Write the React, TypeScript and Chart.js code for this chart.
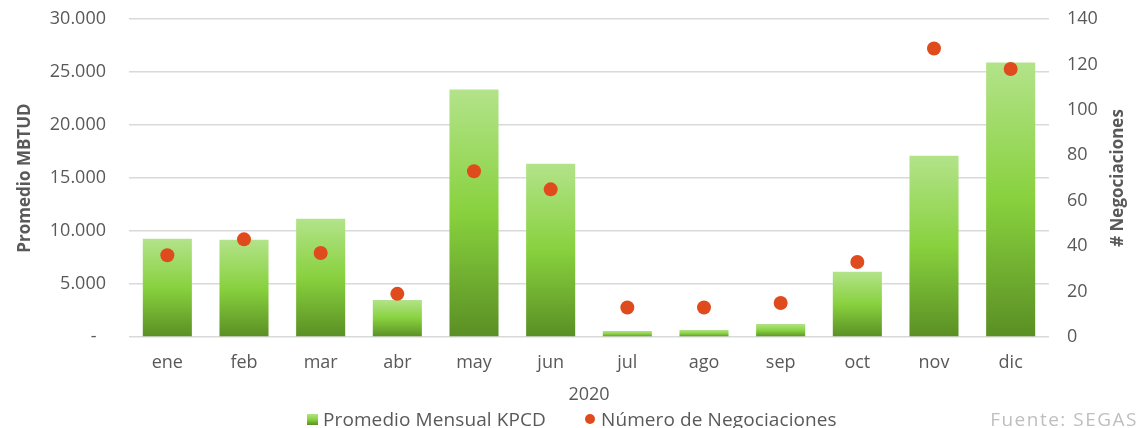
import React, { useEffect, useRef } from "react";
import { Chart, registerables } from "chart.js";

Chart.register(...registerables);

const months = ["ene", "feb", "mar", "abr", "may", "jun", "jul", "ago", "sep", "oct", "nov", "dic"];
const promedioMensualKPCD = [9260, 9170, 11150, 3500, 23350, 16350, 570, 660, 1230, 6150, 17100, 25900];
const numeroNegociaciones = [36, 43, 37, 19, 73, 65, 13, 13, 15, 33, 127, 118];
const xAxisTitle = "2020";
const leftAxisTitle = "Promedio MBTUD";
const rightAxisTitle = "# Negociaciones";
const leftAxisMax = 30000;
const leftAxisStep = 5000;
const rightAxisMax = 140;
const rightAxisStep = 20;
const seriesLabels = ["Promedio Mensual KPCD", "Número de Negociaciones"];
const sourceText = "Fuente: SEGAS";

const FONT = "'Open Sans', 'Noto Sans', sans-serif";
const TEXT = "#595959";
const GREEN_TOP = "#b3e38a";
const GREEN_MID = "#88d13e";
const GREEN_BOT = "#5a8f24";
const DOT = "#e04b1e";

const fmtThousands = (v: number) =>
  v === 0 ? "-  " : String(Math.round(v)).replace(/\B(?=(\d{3})+(?!\d))/g, ".");

const rightTitlePlugin = {
  id: "rightTitle",
  afterDraw(chart: any) {
    const { ctx, chartArea } = chart;
    ctx.save();
    ctx.translate(chart.width - 24, (chartArea.top + chartArea.bottom) / 2);
    ctx.rotate(-Math.PI / 2);
    ctx.font = `bold 17px ${FONT}`;
    ctx.fillStyle = TEXT;
    ctx.textAlign = "center";
    ctx.textBaseline = "middle";
    ctx.fillText(rightAxisTitle, 0, 0);
    ctx.restore();
  },
};

export default function App() {
  const canvasRef = useRef<HTMLCanvasElement | null>(null);

  useEffect(() => {
    if (!canvasRef.current) return;
    const chart = new Chart(canvasRef.current, {
      type: "bar",
      data: {
        labels: months,
        datasets: [
          {
            type: "line" as any,
            label: seriesLabels[1],
            data: numeroNegociaciones,
            yAxisID: "y1",
            showLine: false,
            pointRadius: 7,
            pointHoverRadius: 7,
            pointBackgroundColor: DOT,
            pointBorderWidth: 0,
            backgroundColor: DOT,
            borderColor: DOT,
            order: 0,
          } as any,
          {
            type: "bar",
            label: seriesLabels[0],
            data: promedioMensualKPCD,
            yAxisID: "y",
            categoryPercentage: 1,
            barPercentage: 0.64,
            order: 1,
            backgroundColor: (c: any) => {
              const ch = c.chart;
              if (!ch.chartArea || c.type !== "data") return GREEN_MID;
              const ys = ch.scales.y;
              const top = ys.getPixelForValue(c.raw as number);
              const bottom = ys.getPixelForValue(0);
              if (!isFinite(top) || !isFinite(bottom) || bottom - top < 1) return GREEN_MID;
              const g = ch.ctx.createLinearGradient(0, top, 0, bottom);
              g.addColorStop(0, GREEN_TOP);
              g.addColorStop(0.5, GREEN_MID);
              g.addColorStop(1, GREEN_BOT);
              return g;
            },
          },
        ],
      },
      options: {
        animation: false,
        responsive: true,
        maintainAspectRatio: false,
        layout: { padding: { top: 19, left: 0, right: 0, bottom: 22 } },
        plugins: {
          legend: { display: false },
          tooltip: { enabled: false },
        },
        scales: {
          x: {
            grid: { display: false },
            border: { display: false },
            ticks: { color: TEXT, font: { family: FONT, size: 18 }, padding: 7 },
            title: {
              display: true,
              text: xAxisTitle,
              color: TEXT,
              font: { family: FONT, size: 18 },
              padding: { top: 0, bottom: 0 },
            },
            afterFit: (s: any) => {
              s.height = 69;
            },
          },
          y: {
            position: "left",
            min: 0,
            max: leftAxisMax,
            ticks: {
              stepSize: leftAxisStep,
              color: TEXT,
              font: { family: FONT, size: 18 },
              padding: 4,
              callback: (v: any) => fmtThousands(Number(v)),
            },
            grid: {
              color: "#d9d9d9",
              lineWidth: 1.5,
              drawTicks: true,
              tickLength: 19,
              tickColor: "rgba(0,0,0,0)",
            },
            border: { display: false },
            title: {
              display: true,
              text: leftAxisTitle,
              color: TEXT,
              font: { family: FONT, size: 17, weight: "bold" },
              padding: { top: 15, bottom: 0 },
            },
            afterFit: (s: any) => {
              s.width = 129;
            },
          },
          y1: {
            position: "right",
            min: 0,
            max: rightAxisMax,
            ticks: {
              stepSize: rightAxisStep,
              color: TEXT,
              font: { family: FONT, size: 18 },
              padding: 4,
            },
            grid: {
              display: true,
              drawOnChartArea: false,
              color: "rgba(0,0,0,0)",
              drawTicks: true,
              tickLength: 14,
              tickColor: "rgba(0,0,0,0)",
            },
            border: { display: false },
            afterFit: (s: any) => {
              s.width = 93;
            },
          },
        },
      },
      plugins: [rightTitlePlugin],
    });
    return () => chart.destroy();
  }, []);

  const legendText: React.CSSProperties = {
    fontFamily: FONT,
    fontSize: 19,
    color: TEXT,
    lineHeight: "22px",
    whiteSpace: "nowrap",
    letterSpacing: 0.1,
  };

  return (
    <div style={{ position: "absolute", left: 0, top: 0, width: 1142, height: 428 }}>
      <canvas ref={canvasRef} style={{ display: "block" }} />
      <div style={{ position: "absolute", left: 307, top: 408, display: "flex", alignItems: "center", ...legendText }}>
        <span
          style={{
            display: "inline-block",
            width: 11,
            height: 11,
            marginRight: 5,
            background: `linear-gradient(${GREEN_TOP}, ${GREEN_MID}, ${GREEN_BOT})`,
          }}
        />
        <span>{seriesLabels[0]}</span>
      </div>
      <div style={{ position: "absolute", left: 585, top: 408, display: "flex", alignItems: "center", ...legendText }}>
        <span
          style={{
            display: "inline-block",
            width: 10,
            height: 10,
            borderRadius: "50%",
            marginRight: 6,
            background: DOT,
          }}
        />
        <span>{seriesLabels[1]}</span>
      </div>
      <div
        style={{ position: "absolute", right: 4, top: 408, ...legendText, letterSpacing: 1.5, color: "#bfbfbf" }}
      >
        {sourceText}
      </div>
    </div>
  );
}
